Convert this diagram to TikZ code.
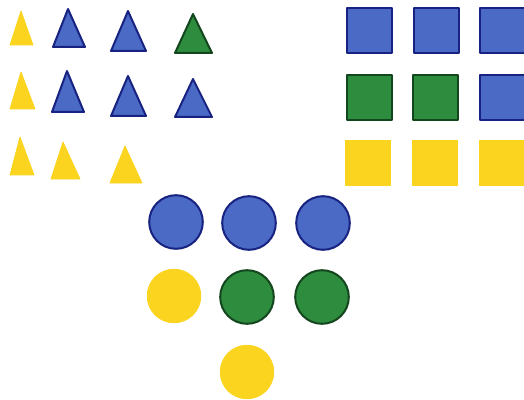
\documentclass[tikz,border=0pt]{standalone}
\usepackage{tikz}
\definecolor{shapeblue}{RGB}{74,106,198}
\definecolor{edgeblue}{RGB}{24,34,128}
\definecolor{shapegreen}{RGB}{46,140,62}
\definecolor{edgegreen}{RGB}{20,70,30}
\definecolor{shapeyellow}{RGB}{250,212,30}

\begin{document}
\begin{tikzpicture}[x=0.5mm, y=-0.5mm, line join=round,
    blue/.style = {fill=shapeblue, draw=edgeblue, line width=1mm},
    green/.style = {fill=shapegreen, draw=edgegreen, line width=1mm},
    yellow/.style = {fill=shapeyellow, draw=shapeyellow, line width=0.4mm},
    sq/.style = {rectangle, minimum size=22.5mm, inner sep=0pt},
    dot/.style = {circle, minimum size=26.8mm, inner sep=0pt}]

        \useasboundingbox (0,0) rectangle (524,400);

        % Triangles
        \filldraw[yellow] (10,45) -- (21,11) -- (33,45) -- cycle;
        \filldraw[blue] (53,47) -- (68,9) -- (85,47) -- cycle;
        \filldraw[blue] (111,51) -- (128,11) -- (146,51) -- cycle;
        \filldraw[green] (175,53) -- (193,14) -- (212,53) -- cycle;

        \filldraw[yellow] (10,109) -- (21,72) -- (35,109) -- cycle;
        \filldraw[blue] (52,112) -- (67,71) -- (84,112) -- cycle;
        \filldraw[blue] (111,116) -- (128,76) -- (146,116) -- cycle;
        \filldraw[blue] (175,117) -- (193,79) -- (212,117) -- cycle;

        \filldraw[yellow] (10,175) -- (20,137) -- (34,175) -- cycle;
        \filldraw[yellow] (51,179) -- (63,142) -- (80,179) -- cycle;
        \filldraw[yellow] (110,183) -- (125,146) -- (142,183) -- cycle;

        % Squares
        \node[sq, blue] (s11) at (369.5,30.5) {};
        \node[sq, blue] (s12) at (436.5,30.5) {};
        \node[sq, blue] (s13) at (502.5,30.5) {};
        \node[sq, green] (s21) at (369,98) {};
        \node[sq, green] (s22) at (435.5,98) {};
        \node[sq, blue] (s23) at (502.5,98) {};
        \node[sq, yellow] (s31) at (368,162.5) {};
        \node[sq, yellow] (s32) at (434.5,162.5) {};
        \node[sq, yellow] (s33) at (501.5,162.5) {};

        % Circles
        \node[dot, blue] (c11) at (176,222) {};
        \node[dot, blue] (c12) at (249,223) {};
        \node[dot, blue] (c13) at (323,223) {};
        \node[dot, yellow] (c21) at (174,296) {};
        \node[dot, green] (c22) at (247,297) {};
        \node[dot, green] (c23) at (322,297) {};
        \node[dot, yellow] (c31) at (247,372) {};
    \end{tikzpicture}
\end{document}
